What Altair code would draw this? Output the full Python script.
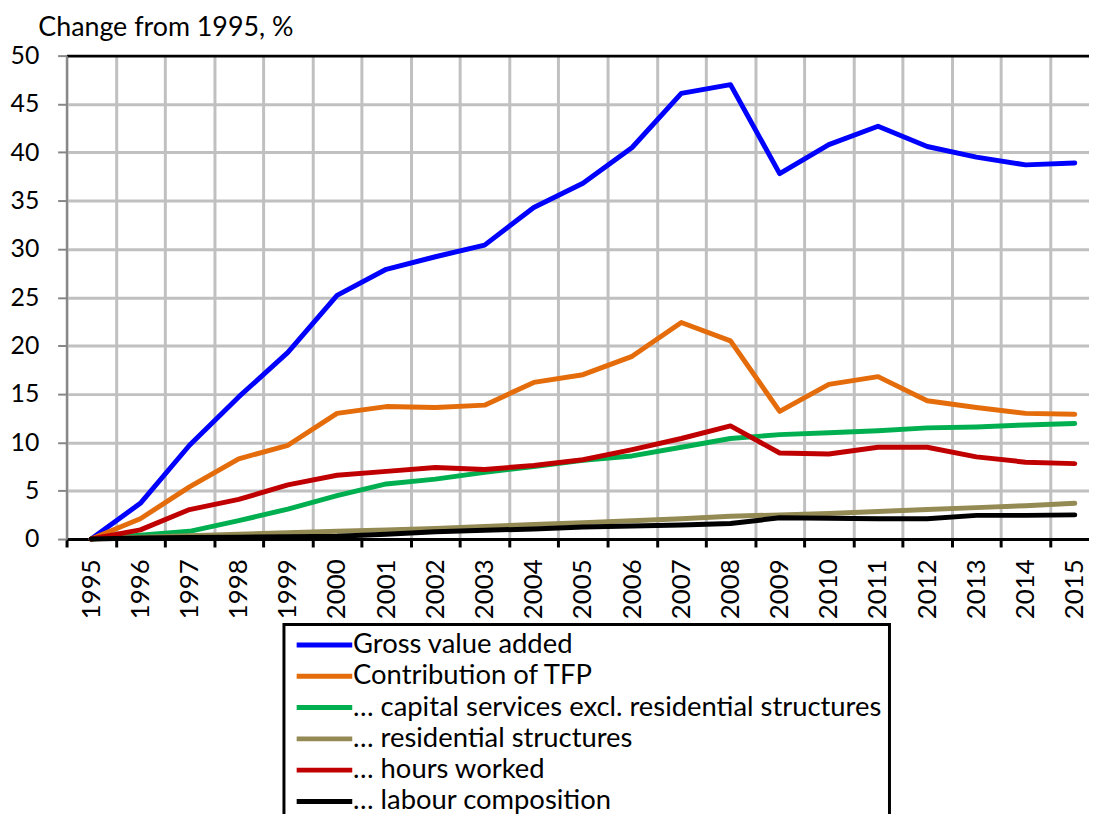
import altair as alt
import pandas as pd

years = list(range(1995, 2016))
series_names = [
    "Gross value added",
    "Contribution of TFP",
    "… capital services excl. residential structures",
    "… residential structures",
    "… hours worked",
    "… labour composition",
]
series_colors = ["#0000FF", "#E46C0A", "#00B050", "#948A54", "#C00000", "#000000"]

gva = [0, 3.7, 9.7, 14.7, 19.3, 25.2, 27.9, 29.2, 30.4, 34.3, 36.8, 40.5, 46.1, 47.0, 37.8, 40.8, 42.7, 40.6, 39.5, 38.7, 38.9]
tfp = [0, 2.1, 5.4, 8.3, 9.7, 13.0, 13.7, 13.6, 13.85, 16.2, 17.0, 18.9, 22.4, 20.5, 13.2, 16.0, 16.8, 14.3, 13.6, 13.0, 12.9]
cap = [0, 0.4, 0.8, 1.9, 3.1, 4.5, 5.7, 6.2, 6.9, 7.5, 8.15, 8.6, 9.5, 10.4, 10.8, 11.0, 11.2, 11.5, 11.6, 11.8, 11.95]
res = [0, 0.2, 0.35, 0.5, 0.65, 0.8, 0.95, 1.1, 1.3, 1.5, 1.7, 1.9, 2.1, 2.35, 2.5, 2.65, 2.85, 3.05, 3.25, 3.45, 3.7]
hrs = [0, 0.95, 3.05, 4.1, 5.6, 6.6, 7.0, 7.4, 7.2, 7.6, 8.2, 9.25, 10.4, 11.7, 8.9, 8.8, 9.5, 9.5, 8.5, 7.95, 7.8]
lab = [0, 0.1, 0.15, 0.2, 0.25, 0.3, 0.5, 0.75, 0.9, 1.05, 1.25, 1.35, 1.45, 1.6, 2.2, 2.15, 2.1, 2.1, 2.45, 2.45, 2.5]

y_ticks = [0, 5, 10, 15, 20, 25, 30, 35, 40, 45, 50]
x_boundaries = [1994.5 + i for i in range(21)]

rows = []
for name, vals in zip(series_names, [gva, tfp, cap, res, hrs, lab]):
    for yr, v in zip(years, vals):
        rows.append({"year": yr, "value": v, "series": name})
df = pd.DataFrame(rows)

FONT = "Lato"
x_scale = alt.Scale(domain=[1994.5, 2015.29], nice=False, zero=False)
y_scale = alt.Scale(domain=[0, 50], nice=False)

y_axis = alt.Axis(
    values=y_ticks,
    title="Change from 1995, %",
    titleAngle=0,
    titleAlign="left",
    titleBaseline="alphabetic",
    titleX=-29,
    titleY=-20,
    titleFont=FONT,
    titleFontSize=27,
    titleFontWeight="normal",
    titleColor="black",
    labelFont=FONT,
    labelFontSize=25,
    labelColor="black",
    labelPadding=19,
    domainColor="#868686",
    domainWidth=2,
    tickColor="#868686",
    tickWidth=2,
    tickSize=9,
    grid=True,
    gridColor={"condition": {"test": "datum.value == 50", "value": "black"}, "value": "#C0C0C0"},
    gridWidth=3,
)

lines = (
    alt.Chart(df)
    .mark_line(strokeWidth=5, strokeJoin="round", strokeCap="round")
    .encode(
        x=alt.X(
            "year:Q",
            scale=x_scale,
            axis=alt.Axis(
                title=None,
                orient="bottom",
                values=x_boundaries,
                labels=False,
                domainColor="black",
                domainWidth=3,
                tickColor="black",
                tickWidth=3,
                tickSize=8,
                grid=True,
                gridColor="#C0C0C0",
                gridWidth=3,
            ),
        ),
        y=alt.Y("value:Q", scale=y_scale, axis=y_axis),
        color=alt.Color(
            "series:N",
            scale=alt.Scale(domain=series_names, range=series_colors),
            legend=alt.Legend(
                title=None,
                orient="none",
                legendX=219,
                legendY=573,
                symbolType="M-1.6,0L9.6,0",
                symbolSize=100,
                symbolStrokeWidth=5,
                labelOffset=35,
                labelFont=FONT,
                labelFontSize=27.6,
                labelColor="black",
                labelLimit=1000,
                rowPadding=2.5,
                padding=7,
                strokeColor="black",
            ),
        ),
        order=alt.Order("year:Q"),
    )
)

year_labels = (
    alt.Chart(df)
    .mark_line(strokeOpacity=0)
    .encode(
        x=alt.X(
            "year:Q",
            scale=x_scale,
            axis=alt.Axis(
                title=None,
                orient="bottom",
                values=years,
                format="d",
                labelAngle=-90,
                labelFont=FONT,
                labelFontSize=26,
                labelColor="black",
                labelPadding=20,
                ticks=False,
                domain=False,
                grid=False,
                zindex=2,
            ),
        ),
        y=alt.Y("value:Q", scale=y_scale, axis=y_axis),
        detail="series:N",
    )
)

chart = (
    alt.layer(lines, year_labels)
    .resolve_axis(x="independent")
    .properties(
        width=1030,
        height=487,
        autosize=alt.AutoSizeParams(type="none"),
        padding={"left": 59, "top": 45, "right": 0, "bottom": 274},
    )
    .configure_view(stroke=None)
    .configure_legend(strokeWidth=3)
)

chart.save("out.html", embed_options={"renderer": "svg", "actions": False})
